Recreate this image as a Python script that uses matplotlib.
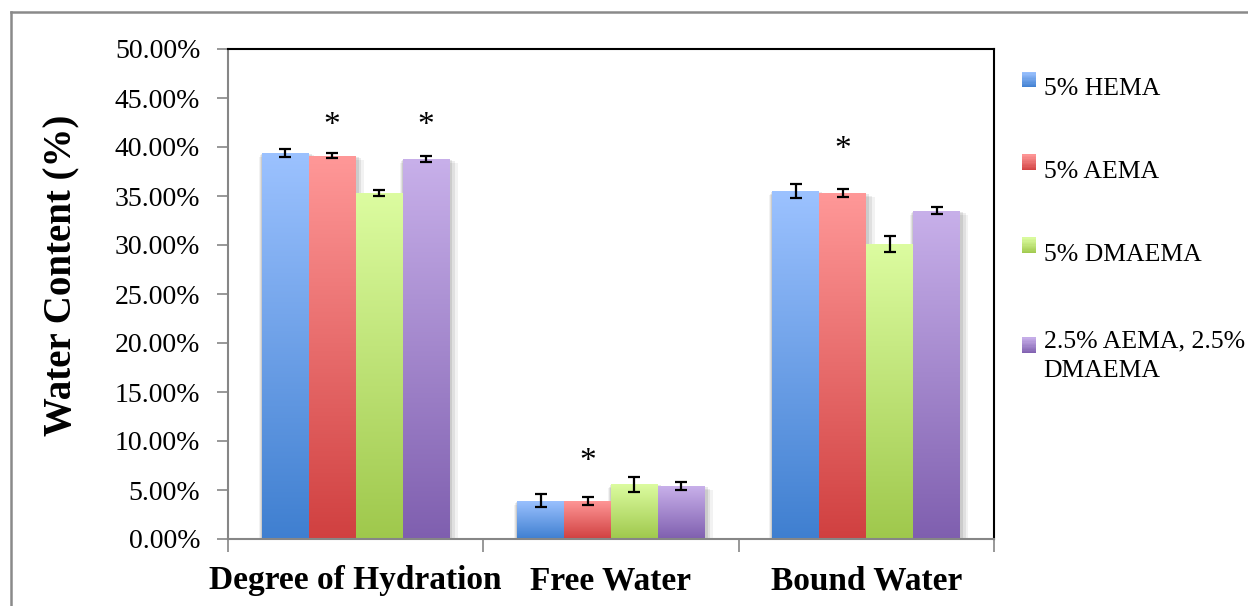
import numpy as np
import matplotlib
matplotlib.use('Agg')
import matplotlib.pyplot as plt
from matplotlib.patches import Rectangle
from matplotlib.colors import LinearSegmentedColormap, to_rgb
from matplotlib.legend_handler import HandlerBase
from matplotlib.lines import Line2D
from matplotlib.ticker import FuncFormatter

categories = ['Degree of Hydration', 'Free Water', 'Bound Water']
series = ['5% HEMA', '5% AEMA', '5% DMAEMA', '2.5% AEMA, 2.5%\nDMAEMA']
hema = [39.4, 3.9, 35.5]
hema_err = [0.37, 0.65, 0.68]
aema = [39.1, 3.9, 35.3]
aema_err = [0.27, 0.40, 0.42]
dmaema = [35.3, 5.6, 30.1]
dmaema_err = [0.34, 0.77, 0.78]
mix = [38.8, 5.4, 33.5]
mix_err = [0.29, 0.39, 0.37]
# significance markers: category index, series index, height (%)
star_cat = [0, 0, 1, 2]
star_ser = [1, 3, 1, 1]
star_y = [42.2, 42.2, 7.9, 39.7]
y_ticks = [0, 5, 10, 15, 20, 25, 30, 35, 40, 45, 50]

values = [hema, aema, dmaema, mix]
errors = [hema_err, aema_err, dmaema_err, mix_err]
top_colors = ['#9cc2ff', '#ff9898', '#dcfca0', '#c8b0ea']
bot_colors = ['#3f7fd0', '#d04040', '#9fc84c', '#7f5faf']

plt.rcParams['font.family'] = ['Liberation Serif', 'DejaVu Serif']

W, H = 1248, 606
fig = plt.figure(figsize=(W / 100, H / 100), dpi=100)
ax = fig.add_axes([228 / W, 1 - 539 / H, 766 / W, 490 / H])

bw = 0.184
x = np.arange(len(categories))
grad = np.linspace(0, 1, 256).reshape(-1, 1)

for i, (vals, errs) in enumerate(zip(values, errors)):
    pos = x + (i - 1.5) * bw
    cmap = LinearSegmentedColormap.from_list(f'g{i}', [bot_colors[i], top_colors[i]])
    bars = ax.bar(pos, vals, width=bw, color=top_colors[i], zorder=2, linewidth=0)
    for b, v in zip(bars, vals):
        x0 = b.get_x()
        # soft shadow
        for k, a in zip([0.02, 0.013, 0.007], [0.05, 0.07, 0.09]):
            ax.add_patch(Rectangle((x0 - k * 0.6, 0), bw + k * 2.2, v - k * 20,
                                   facecolor='#000000', alpha=a, linewidth=0, zorder=1))
        im = ax.imshow(grad, cmap=cmap, origin='lower', aspect='auto',
                       extent=[x0, x0 + bw, 0, v], zorder=2.5)
        im.set_clip_path(b)
    ax.errorbar(pos, vals, yerr=errs, fmt='none', ecolor='black', elinewidth=1.6,
                capsize=4.3, capthick=1.6, zorder=4)

for c, s, yv in zip(star_cat, star_ser, star_y):
    ax.text(x[c] + (s - 1.5) * bw, yv, '*', ha='center', va='center',
            fontsize=24, zorder=5)

ax.set_xlim(-0.5, 2.5)
ax.set_ylim(0, 50)
ax.set_yticks(y_ticks)
ax.yaxis.set_major_formatter(FuncFormatter(lambda v, p: f'{v:.2f}%'))
ax.tick_params(axis='y', length=8, width=1.2, color='#868686', labelsize=20, pad=12)

ax.set_xticks([-0.5, 0.5, 1.5, 2.5])
ax.set_xticklabels([])
ax.tick_params(axis='x', which='major', length=9, width=1.2, color='#868686')
ax.set_xticks(x, minor=True)
ax.set_xticklabels(categories, minor=True, fontsize=24, fontweight='bold')
ax.tick_params(axis='x', which='minor', length=0, pad=19)

for side in ['left', 'bottom']:
    ax.spines[side].set_color('#868686')
    ax.spines[side].set_linewidth(1.5)
for side in ['top', 'right']:
    ax.spines[side].set_color('black')
    ax.spines[side].set_linewidth(1.5)

ax.set_ylabel('Water Content (%)', fontsize=28, fontweight='bold')
ax.yaxis.set_label_coords((80 - 228) / 766, (539 - 275) / 490)


class GradHandler(HandlerBase):
    def __init__(self, top, bot):
        super().__init__()
        self.top, self.bot = np.array(to_rgb(top)), np.array(to_rgb(bot))

    def create_artists(self, legend, orig_handle, xdescent, ydescent, width, height,
                       fontsize, trans):
        n = 12
        arts = []
        for j in range(n):
            t = (j + 0.5) / n
            col = self.bot + (self.top - self.bot) * t
            r = Rectangle((-xdescent, -ydescent + height * j / n), width, height / n + 0.3,
                          facecolor=col, linewidth=0, transform=trans)
            arts.append(r)
        return arts


handles = [Rectangle((0, 0), 1, 1, facecolor=top_colors[i]) for i in range(4)]
hmap = {h: GradHandler(top_colors[i], bot_colors[i]) for i, h in enumerate(handles)}
leg = fig.legend(handles, series, loc='upper left', bbox_to_anchor=(1009 / W, 1 - 59 / H),
                 frameon=False, fontsize=18.5, handlelength=0.55, handleheight=0.55,
                 handletextpad=0.3, labelspacing=2.37, borderpad=0, handler_map=hmap)
texts = leg.get_texts()
for t in texts:
    t.set_va('center')
texts[-1].set_linespacing(1.4)
texts[-1].set_position((0, 10))

# outer chart border
fig.add_artist(Line2D([11 / W, 1], [1 - 12 / H, 1 - 12 / H], color='#8a8a8a', lw=1.8,
                      transform=fig.transFigure))
fig.add_artist(Line2D([11 / W, 11 / W], [0, 1 - 12 / H], color='#8a8a8a', lw=1.8,
                      transform=fig.transFigure))

fig.savefig('out.png', dpi=100)
